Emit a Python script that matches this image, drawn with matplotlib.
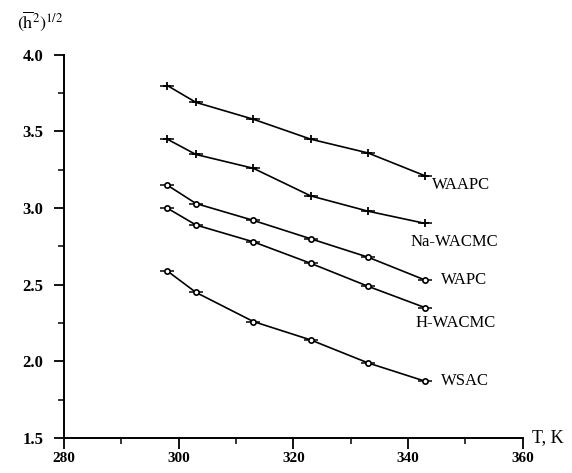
import numpy as np
import matplotlib
matplotlib.use('Agg')
import matplotlib.pyplot as plt
from matplotlib.ticker import MultipleLocator, FormatStrFormatter

plt.rcParams['font.family'] = ['Liberation Serif', 'DejaVu Serif']
plt.rcParams['mathtext.fontset'] = 'stix'

# 温度 (K)
T = [298, 303, 313, 323, 333, 343]

waapc = [3.80, 3.69, 3.58, 3.45, 3.36, 3.21]
na_wacmc = [3.45, 3.35, 3.26, 3.08, 2.98, 2.90]
wapc = [3.15, 3.03, 2.92, 2.80, 2.68, 2.53]
h_wacmc = [3.00, 2.89, 2.78, 2.64, 2.49, 2.35]
wsac = [2.59, 2.45, 2.26, 2.14, 1.99, 1.87]

names = ['WAAPC', 'Na-WACMC', 'WAPC', 'H-WACMC', 'WSAC']

fig = plt.figure(figsize=(5.72, 4.73), dpi=100)
ax = fig.add_axes([0.112, 0.074, 0.802, 0.810])

series = [waapc, na_wacmc, wapc, h_wacmc, wsac]
for i, ys in enumerate(series):
    if i < 2:
        ax.plot(T, ys, '-', color='black', lw=1.2, marker='+', ms=6, mew=1.3)
        ax.plot(T, ys, ' ', color='black', marker='_', ms=10, mew=1.1)
    else:
        ax.plot(T, ys, '-', color='black', lw=1.2, marker='_', ms=10, mew=1.1)
        ax.plot(T, ys, ' ', color='black', marker='o', ms=3.8, mfc='white', mew=1.2)

# 曲线标签
lab_pos = [(344.2, 3.15, 'left'), (348.1, 2.78, 'center'), (345.8, 2.53, 'left'),
           (348.3, 2.25, 'center'), (345.8, 1.87, 'left')]
for (x, y, ha), name in zip(lab_pos, names):
    ax.text(x, y, name, fontsize=12, ha=ha, va='center')

ax.set_xlim(280, 360)
ax.set_ylim(1.5, 4.0)
ax.xaxis.set_major_locator(MultipleLocator(20))
ax.xaxis.set_minor_locator(MultipleLocator(10))
ax.yaxis.set_major_locator(MultipleLocator(0.5))
ax.yaxis.set_minor_locator(MultipleLocator(0.25))
ax.yaxis.set_major_formatter(FormatStrFormatter('%.1f'))

for s in ['top', 'right']:
    ax.spines[s].set_visible(False)
for s in ['left', 'bottom']:
    ax.spines[s].set_linewidth(1.4)
ax.tick_params(which='major', width=1.3, labelsize=12)
ax.tick_params(which='minor', width=1.1)
ax.tick_params(axis='y', which='major', length=7, pad=8)
ax.tick_params(axis='y', which='minor', length=4)
ax.tick_params(axis='x', which='major', length=8, pad=2, labelsize=11)
ax.tick_params(axis='x', which='minor', length=4)
for lab in ax.get_xticklabels() + ax.get_yticklabels():
    lab.set_fontweight('bold')

ax.text(361.6, 1.5, 'T, K', fontsize=13, ha='left', va='center')
fig.text(0.03, 0.93, r'$(\overline{\mathrm{h}}^{2})^{1/2}$', fontsize=13, ha='left', va='bottom')

fig.savefig('out.png', dpi=100)
